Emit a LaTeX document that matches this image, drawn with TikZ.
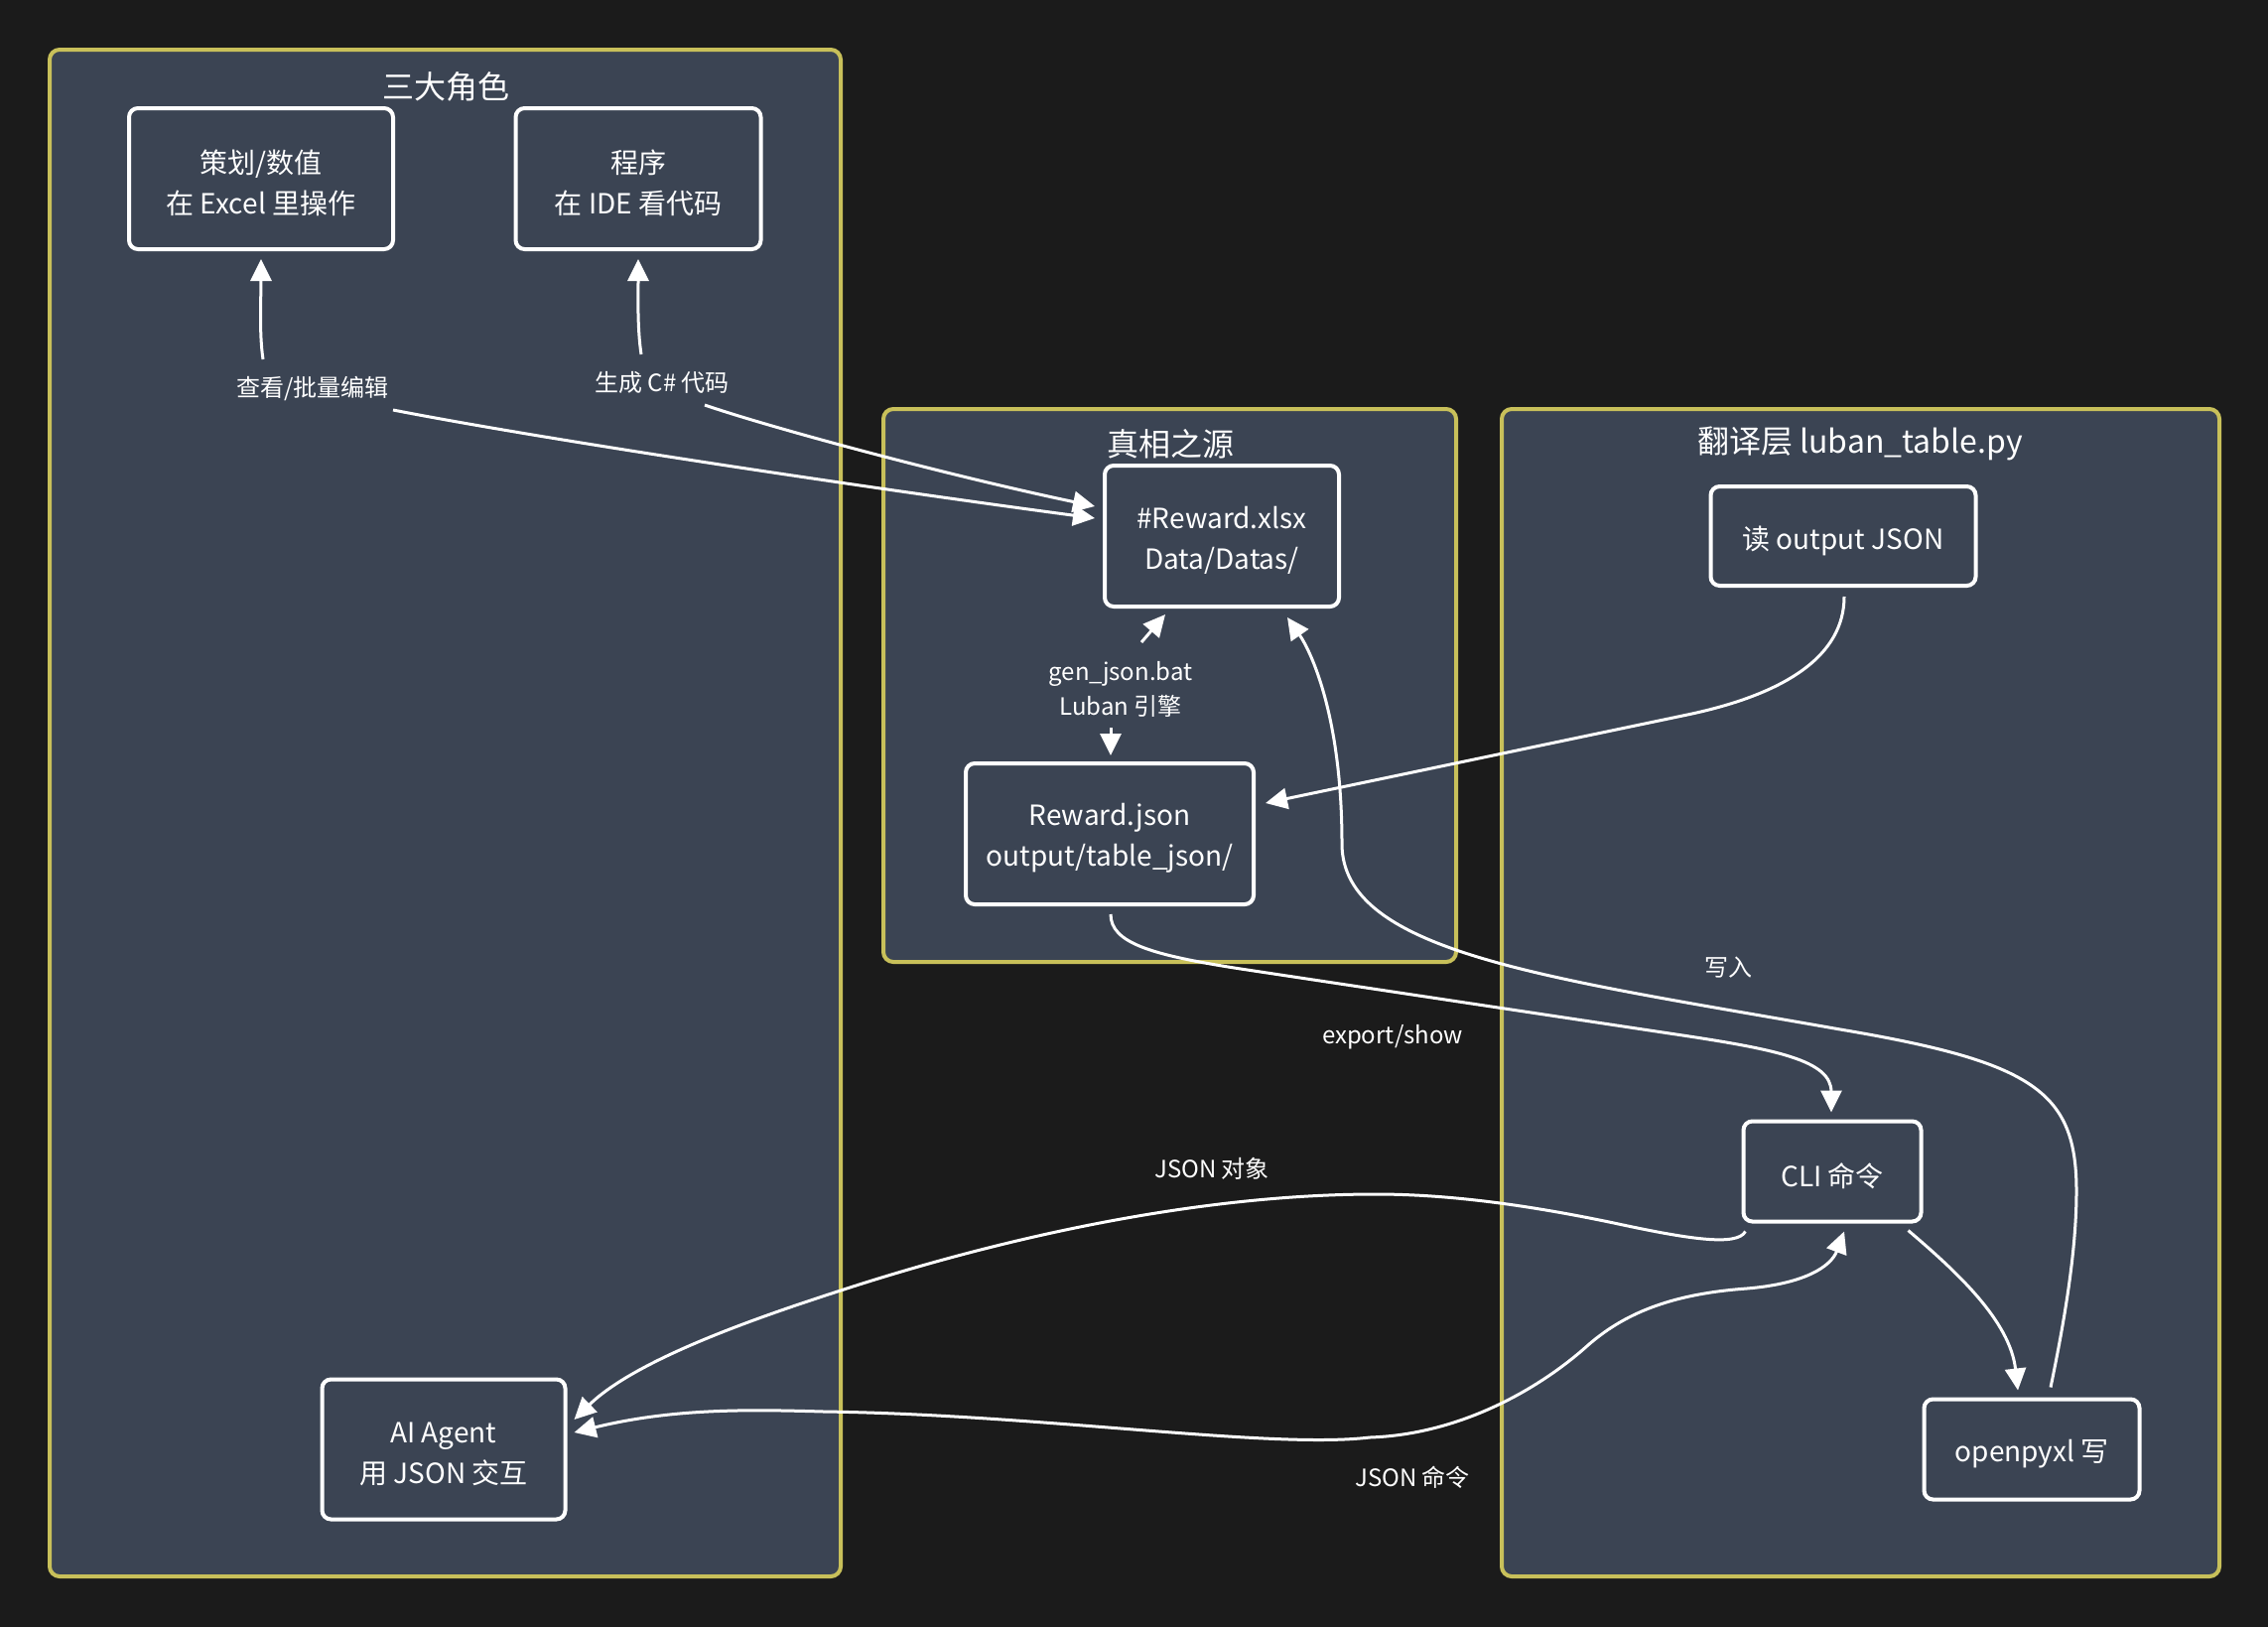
\documentclass[tikz,border=0pt]{standalone}
\usepackage{fontspec}
\setmainfont{Noto Sans CJK SC}
\usetikzlibrary{arrows.meta,calc}
\definecolor{bgc}{HTML}{1B1B1B}
\definecolor{clfill}{HTML}{3B4453}
\definecolor{clborder}{HTML}{C8C05A}
\begin{document}
\begin{tikzpicture}[x=1pt,y=-1pt,
  cluster/.style={draw=clborder, fill=clfill, line width=4pt, rounded corners=10pt, inner sep=0pt},
  box/.style={draw=white, fill=clfill, line width=4pt, rounded corners=9pt, inner sep=0pt},
  boxtext/.style={text=white, align=center, font=\fontsize{28}{41}\selectfont, inner sep=0pt, yshift=-4.5pt},
  ttl/.style={text=white, font=\fontsize{32}{36}\selectfont, inner sep=0pt},
  elbl/.style={text=white, font=\fontsize{24}{35}\selectfont, align=center, inner sep=0pt},
  tip/.style={Triangle[length=22pt,width=21pt]},
  conn/.style={draw=white, line width=3pt, -{Triangle[length=22pt,width=21pt]}},
  bconn/.style={draw=white, line width=3pt, {Triangle[length=22pt,width=21pt]}-{Triangle[length=22pt,width=21pt]}},
]
\fill[bgc] (0,0) rectangle (2285,1639);
\useasboundingbox (0,0) rectangle (2285,1639);

% clusters
\node[cluster, minimum width=797pt, minimum height=1538pt] (c1) at (448.5,819) {};
\node[cluster, minimum width=577pt, minimum height=557pt] (c2) at (1178.5,690.5) {};
\node[cluster, minimum width=723pt, minimum height=1176pt] (c3) at (1874.5,1000) {};
\node[ttl] (t1) at (449,87) {三大角色};
\node[ttl] (t2) at (1179,447) {真相之源};
\node[ttl] (t3) at (1874,447) {翻译层 luban\_table.py};

% nodes
\node[box, minimum width=266pt, minimum height=142pt, label={[boxtext]center:{策划/数值\\在 Excel 里操作}}] (plan) at (263,180) {};
\node[box, minimum width=247pt, minimum height=142pt, label={[boxtext]center:{程序\\在 IDE 看代码}}] (prog) at (643,180) {};
\node[box, minimum width=236pt, minimum height=142pt, label={[boxtext]center:{\#Reward.xlsx\\Data/Datas/}}] (xlsx) at (1231,540) {};
\node[box, minimum width=290pt, minimum height=142pt, label={[boxtext]center:{Reward.json\\output/table\_json/}}] (rjson) at (1118,840) {};
\node[box, minimum width=267pt, minimum height=100pt, label={[boxtext]center:{读 output JSON}}] (read) at (1857,540) {};
\node[box, minimum width=179pt, minimum height=101pt, label={[boxtext]center:{CLI 命令}}] (cli) at (1846,1180) {};
\node[box, minimum width=217pt, minimum height=101pt, label={[boxtext]center:{openpyxl 写}}] (opx) at (2047,1460) {};
\node[box, minimum width=245pt, minimum height=141pt, label={[boxtext]center:{AI Agent\\用 JSON 交互}}] (agent) at (447,1460) {};

% edge labels
\node[elbl] (l1) at (315,391) {查看/批量编辑};
\node[elbl] (l2) at (667,385) {生成 C\# 代码};
\node[elbl] (l3) at (1129,694) {gen\_json.bat\\Luban 引擎};
\node[elbl] (l4) at (1741,975) {写入};
\node[elbl] (l5) at (1403,1045) {export/show};
\node[elbl] (l6) at (1221,1177) {JSON 对象};
\node[elbl] (l7) at (1423,1488) {JSON 命令};

% free ends at labels
\coordinate (l1up) at (265,362);
\coordinate (l1dn) at (396,413);
\coordinate (l2up) at (646,357);
\coordinate (l2dn) at (710,408);
\coordinate (l3up) at (1150,647);
\coordinate (l3dn) at (1119,733);

% connectors
\draw[conn] (l1up) .. controls (261,335) and (263,300) .. ($(plan.south)+(0,8)$);
\draw[conn] (l1dn) .. controls (560,445) and (900,495) .. ($(xlsx.west)+(-8,-18)$);
\draw[conn] (l2up) .. controls (642,330) and (643,300) .. ($(prog.south)+(0,8)$);
\draw[conn] (l2dn) .. controls (780,432) and (960,480) .. ($(xlsx.west)+(-8,-30)$);
\draw[conn] (l3up) -- ($(xlsx.south)+(-57,6)$);
\draw[conn] (l3dn) -- ($(rjson.north)+(1,-6)$);

\draw[conn] ($(read.south)+(1,9)$) .. controls (1858,660) and (1800,699) .. (1700,720)
  -- ($(rjson.east)+(10,-31)$);

\draw[conn] ($(opx.north)+(19,-10)$) .. controls (2080,1330) and (2092,1260) .. (2092,1200)
  .. controls (2092,1100) and (2050,1070) .. (1854,1037)
  .. controls (1560,985) and (1352,960) .. (1352,850)
  .. controls (1352,720) and (1320,655) .. ($(xlsx.south east)+(-54,9)$);

\draw[conn] ($(rjson.south)+(1,8)$) .. controls (1119,950) and (1160,962) .. (1250,976)
  -- (1682,1041) .. controls (1790,1057) and (1845,1068) .. (1845,1100)
  -- ($(cli.north)+(-1,-7)$);

\draw[conn] ($(cli.south east)+(-15,7)$) .. controls (1970,1280) and (2025,1330) .. ($(opx.north)+(-14,-7)$);

\draw[conn] ($(cli.south west)+(4,8)$) .. controls (1750,1256) and (1700,1248) .. (1626,1232)
  .. controls (1540,1214) and (1460,1203) .. (1386,1203)
  .. controls (1200,1203) and (1000,1250) .. (847,1300)
  .. controls (760,1328) and (640,1370) .. ($(agent.east)+(7,-30)$);

\draw[bconn] ($(agent.east)+(7,-17)$) .. controls (680,1418) and (760,1420) .. (830,1422)
  .. controls (1050,1425) and (1280,1460) .. (1380,1448)
  .. controls (1470,1445) and (1550,1400) .. (1600,1355)
  .. controls (1640,1320) and (1690,1303) .. (1760,1298)
  .. controls (1820,1293) and (1845,1275) .. ($(cli.south)+(12,8)$);
\end{tikzpicture}
\end{document}
